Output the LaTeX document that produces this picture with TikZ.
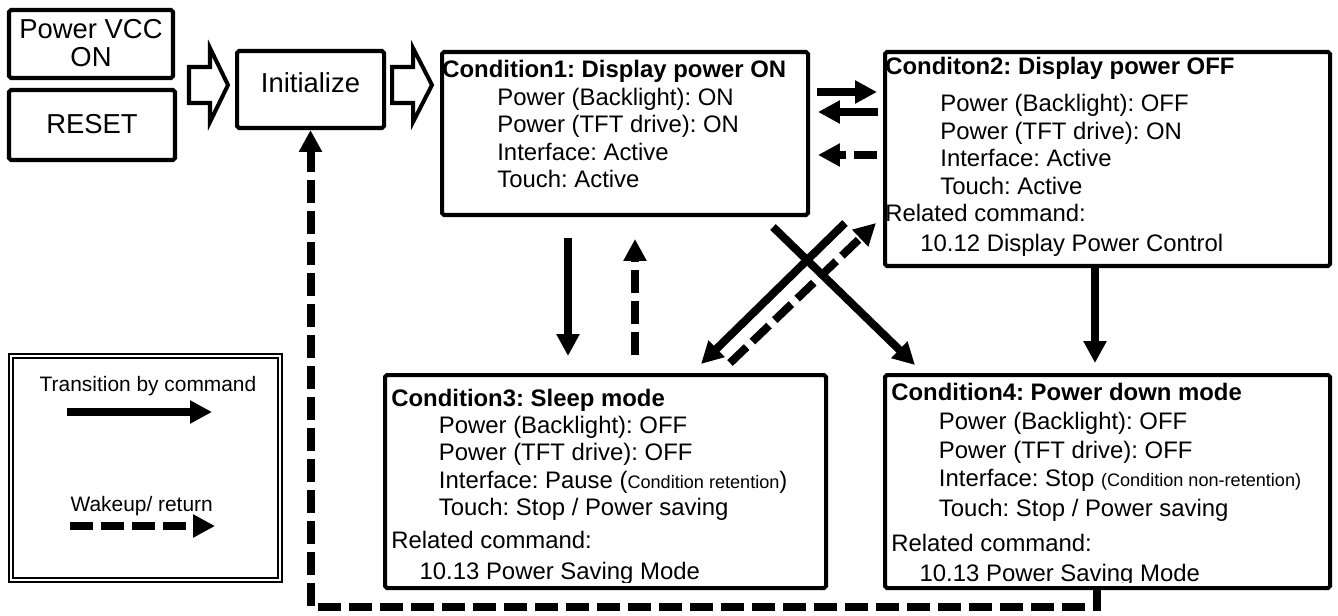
\documentclass[tikz,border=0pt]{standalone}
\usepackage{fontspec}
\setmainfont{Liberation Sans}
\usetikzlibrary{arrows.meta,calc}
\frenchspacing
\newlength{\pxu}
\setlength{\pxu}{0.02cm}
\newcommand{\smalltxt}{\fontsize{10.3pt}{12pt}\selectfont}

\tikzset{
  box/.style={draw, line width=2.28pt, rounded corners=1.1pt, inner sep=0pt},
  lbl/.style={font=\fontsize{15.6pt}{16.2pt}\selectfont},
  txt/.style={inner sep=0pt, anchor=base west, font=\fontsize{13.6pt}{15.65pt}\selectfont},
  legtxt/.style={inner sep=0pt, anchor=base, font=\fontsize{11.9pt}{14pt}\selectfont},
  cmd/.style={line width=4.55pt, -{Triangle[length=12.5pt,width=12.5pt]}},
  wake/.style={cmd, dash pattern=on 13.1pt off 4.55pt},
  hollow/.style={draw, fill=white, line width=2.28pt, line join=miter},
}

\begin{document}
\begin{tikzpicture}[x=0.02cm, y=-0.02cm]
\useasboundingbox (0,0) rectangle (1338,615);

\node[box, lbl, minimum width=164\pxu, minimum height=68\pxu] (pwr) at (91,44) {\raisebox{5.7\pxu}[0pt][0pt]{\begin{tabular}[t]{@{}c@{}}Power VCC\\ON\end{tabular}}}; % pwr
\node[box, lbl, minimum width=166\pxu, minimum height=70\pxu] (rst) at (92,125) {\raisebox{-8.3\pxu}[0pt][0pt]{RESET}}; % rst
\node[box, lbl, minimum width=147\pxu, minimum height=77\pxu] (init) at (310.5,89.5) {\raisebox{-3.2\pxu}[0pt][0pt]{Initialize}}; % init

\node[box, minimum width=366\pxu, minimum height=163\pxu] (cond1) at (625,133.5) {}; % cond1
\node[box, minimum width=445\pxu, minimum height=214\pxu] (cond2) at (1107.5,159) {}; % cond2
\node[box, minimum width=441\pxu, minimum height=213\pxu] (cond3) at (605.5,481.5) {}; % cond3
\node[box, minimum width=445\pxu, minimum height=213\pxu] (cond4) at (1107.5,481.5) {}; % cond4

\node[txt] (cond1txt) at ($(cond1.north west)+(2,28)$) {\begin{tabular}[t]{@{}l@{}}
\textbf{Condition1: Display power ON}\\
\hspace*{55\pxu}Power (Backlight): ON\\
\hspace*{55\pxu}Power (TFT drive): ON\\
\hspace*{55\pxu}Interface: Active\\
\hspace*{55\pxu}Touch: Active
\end{tabular}}; % cond1txt

\begin{scope}
\clip (cond2.north west) rectangle ($(cond2.south east)+(0,-11)$);
\node[txt] (cond2txt) at ($(cond2.north west)+(2,25)$) {\begin{tabular}[t]{@{}l@{}}
\textbf{Conditon2: Display power OFF}\\[5.4pt]
\hspace*{55\pxu}Power (Backlight): OFF\\
\hspace*{55\pxu}Power (TFT drive): ON\\
\hspace*{55\pxu}Interface: Active\\
\hspace*{55\pxu}Touch: Active\\
Related command:\\[1.4pt]
\hspace*{35\pxu}10.12 Display Power Control
\end{tabular}}; % cond2txt
\end{scope}

\begin{scope}
\clip (cond3.north west) rectangle ($(cond3.south east)+(0,-8)$);
\node[txt] (cond3txt) at ($(cond3.north west)+(8,33)$) {\begin{tabular}[t]{@{}l@{}}
\textbf{Condition3: Sleep mode}\\
\hspace*{47.6\pxu}Power (Backlight): OFF\\
\hspace*{47.6\pxu}Power (TFT drive): OFF\\
\hspace*{47.6\pxu}Interface: Pause ({\smalltxt Condition retention})\\
\hspace*{47.6\pxu}Touch: Stop / Power saving\\[3.1pt]
Related command:\\[2pt]
\hspace*{28.3\pxu}10.13 Power Saving Mode
\end{tabular}}; % cond3txt
\end{scope}

\begin{scope}
\clip (cond4.north west) rectangle ($(cond4.south east)+(0,-8)$);
\node[txt] (cond4txt) at ($(cond4.north west)+(8,27)$) {\begin{tabular}[t]{@{}l@{}}
\textbf{Condition4: Power down mode}\\[1pt]
\hspace*{47.6\pxu}Power (Backlight): OFF\\[1pt]
\hspace*{47.6\pxu}Power (TFT drive): OFF\\[0.5pt]
\hspace*{47.6\pxu}Interface: Stop {\smalltxt (Condition non-retention)}\\[1pt]
\hspace*{47.6\pxu}Touch: Stop / Power saving\\[4.3pt]
Related command:\\[1.4pt]
\hspace*{28.3\pxu}10.13 Power Saving Mode
\end{tabular}}; % cond4txt
\end{scope}

% block arrows
\draw[hollow] ($(init.west)+(-46,-22.5)$) -- ++(21,0) -- ++(0,-19) -- ++(18,37) -- ++(-18,37) -- ++(0,-19) -- ++(-21,0) -- cycle; % start -> init
\draw[hollow] ($(cond1.west)+(-48,-66.5)$) -- ++(21,0) -- ++(0,-19) -- ++(19,37) -- ++(-19,37) -- ++(0,-19) -- ++(-21,0) -- cycle; % init -> cond1

% transitions
\draw[cmd] ($(cond1.north east)+(7,42)$) -- ($(cond2.north west)+(-6,42)$); % 1 -> 2
\draw[cmd] ($(cond2.north west)+(-5,62)$) -- ($(cond1.north east)+(8,62)$); % 2 -> 1
\draw[wake] ($(cond2.north west)+(-6,105)$) -- ($(cond1.north east)+(8,105)$); % 2 -> 1
\draw[cmd] ($(cond1.south west)+(128,21)$) -- ($(cond3.north west)+(185,-17)$); % 1 -> 3
\draw[wake] ($(cond3.north west)+(252,-18)$) -- ($(cond1.south west)+(195,22)$); % 3 -> 1
\draw[cmd] ($(cond1.south east)+(-37,10)$) -- ($(cond4.north west)+(32,-8)$); % 1 -> 4
\draw[cmd] ($(cond2.south west)+(-38,-45)$) -- ($(cond3.north east)+(-127,-9)$); % 2 -> 3
\draw[wake] ($(cond3.north east)+(-98,-10)$) -- ($(cond2.south west)+(-7,-45)$); % 3 -> 2
\draw[cmd] ($(cond2.south west)+(212,-2)$) -- ($(cond4.north west)+(212,-10)$); % 2 -> 4
\draw[wake] ($(cond4.south west)+(214,-2)$) -- ++(0,19) -| (init.south); % 4 -> init

% legend
\node[draw, double, line width=1.1pt, double distance=1.1pt, minimum width=269\pxu, minimum height=224\pxu] (legend) at (145.5,468) {}; % legend
\node[legtxt] (legcmd) at ($(legend.center)+(2.5,-76.3)$) {Transition by command}; % legcmd
\node[legtxt] (legwake) at ($(legend.center)+(-3.8,43.7)$) {Wakeup/ return}; % legwake
\draw[cmd] ($(legend.center)+(-78.5,-56)$) -- ($(legend.center)+(66.5,-56)$); % legcmd arrow
\draw[wake] ($(legend.center)+(-75.5,58)$) -- ($(legend.center)+(69.5,58)$); % legwake arrow

\end{tikzpicture}
\end{document}
